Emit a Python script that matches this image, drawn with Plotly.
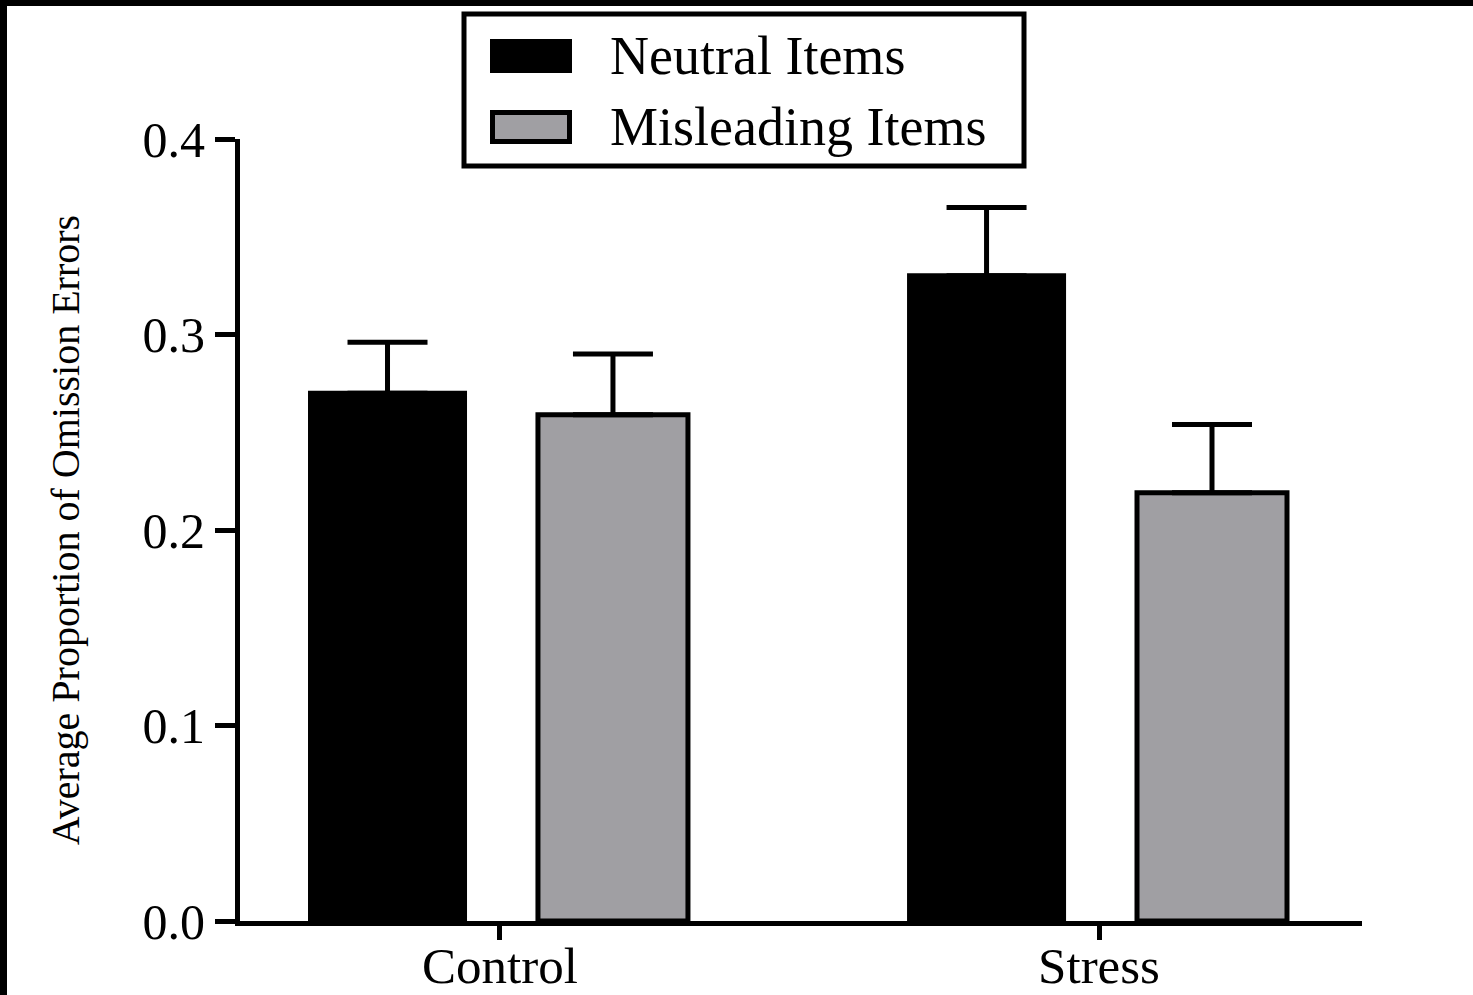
import plotly.graph_objects as go

# Data
groups = ["Control", "Stress"]
series_names = ["Neutral Items", "Misleading Items"]
neutral_means = [0.27, 0.33]
neutral_sem = [0.026, 0.035]
misleading_means = [0.259, 0.219]
misleading_sem = [0.031, 0.035]
y_ticks = [0.0, 0.1, 0.2, 0.3, 0.4]

W, H = 1473, 995
ML, MR, MT, MB = 240, 111, 139, 74
PW, PH = W - ML - MR, H - MT - MB

FONT = "Liberation Serif"
GREY = "#a09fa3"


def px(x):
    return (x - ML) / PW


def py(y):
    return (H - MB - y) / PH


fig = go.Figure()

fig.add_trace(go.Bar(
    x=groups, y=neutral_means, name=series_names[0],
    marker=dict(color="black", line=dict(color="black", width=5)),
    width=0.2571, offset=-0.3163,
    error_y=dict(type="data", array=neutral_sem, arrayminus=[0] * len(groups),
                 symmetric=False, color="black", thickness=5, width=40),
    showlegend=False,
))
fig.add_trace(go.Bar(
    x=groups, y=misleading_means, name=series_names[1],
    marker=dict(color=GREY, line=dict(color="black", width=5)),
    width=0.2504, offset=0.0634,
    error_y=dict(type="data", array=misleading_sem, arrayminus=[0] * len(groups),
                 symmetric=False, color="black", thickness=5, width=40),
    showlegend=False,
))

shapes = []
annotations = []

# Legend box drawn by hand so the swatches can be large
shapes.append(dict(type="rect", xref="paper", yref="paper",
                   x0=px(464), x1=px(1024), y0=py(14), y1=py(166),
                   line=dict(color="black", width=5), fillcolor="white"))
legend_rows = [
    (series_names[0], "black", 0, 56),
    (series_names[1], GREY, 5, 127),
]
for name, fill, lw, cy in legend_rows:
    shapes.append(dict(type="rect", xref="paper", yref="paper",
                       x0=px(490 + lw / 2), x1=px(572 - lw / 2),
                       y0=py(cy - 17 + lw / 2), y1=py(cy + 17 - lw / 2),
                       line=dict(color="black", width=lw), fillcolor=fill))
    annotations.append(dict(text=name, xref="paper", yref="paper",
                            x=px(608), y=py(cy), xanchor="left", yanchor="middle",
                            showarrow=False,
                            font=dict(family=FONT, size=54, color="black")))

# Dark frame strips along the top and left edges
shapes.append(dict(type="rect", xref="paper", yref="paper", layer="above",
                   x0=px(0), x1=px(W), y0=py(6), y1=py(0),
                   line=dict(width=0), fillcolor="black"))
shapes.append(dict(type="rect", xref="paper", yref="paper", layer="above",
                   x0=px(0), x1=px(7), y0=py(H), y1=py(0),
                   line=dict(width=0), fillcolor="black"))

fig.update_layout(
    width=W, height=H,
    margin=dict(l=ML, r=MR, t=MT, b=MB, autoexpand=False),
    paper_bgcolor="white", plot_bgcolor="white",
    barmode="overlay",
    shapes=shapes, annotations=annotations,
    font=dict(family=FONT, color="black"),
)

fig.update_xaxes(
    range=[-0.434, 1.439], showgrid=False, zeroline=False,
    showline=True, linecolor="black", linewidth=5,
    ticks="outside", ticklen=14, tickwidth=5, tickcolor="black",
    ticklabelstandoff=-18,
    tickfont=dict(family=FONT, size=51, color="black"),
)
fig.update_yaxes(
    range=[0, 0.4], showgrid=False, zeroline=False,
    showline=True, linecolor="black", linewidth=5,
    ticks="outside", ticklen=20, tickwidth=5, tickcolor="black",
    tickvals=y_ticks, ticktext=[f"{v:.1f}" for v in y_ticks],
    tickfont=dict(family=FONT, size=50, color="black"),
    title=dict(text="Average Proportion of Omission Errors",
               font=dict(family=FONT, size=40, color="black"), standoff=52),
)

fig.write_html("out.html")
